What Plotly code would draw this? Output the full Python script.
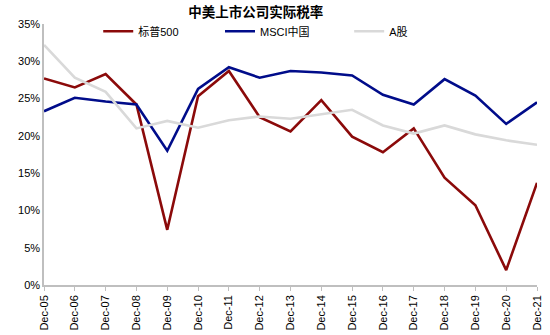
import plotly.graph_objects as go

categories = ["Dec-05", "Dec-06", "Dec-07", "Dec-08", "Dec-09", "Dec-10", "Dec-11",
              "Dec-12", "Dec-13", "Dec-14", "Dec-15", "Dec-16", "Dec-17", "Dec-18",
              "Dec-19", "Dec-20", "Dec-21"]
sp500 = [27.7, 26.5, 28.3, 24.2, 7.4, 25.3, 28.7, 22.5, 20.6, 24.8, 19.9, 17.8,
         21.0, 14.4, 10.7, 2.0, 13.7]
msci_china = [23.3, 25.1, 24.6, 24.2, 18.0, 26.3, 29.2, 27.8, 28.7, 28.5, 28.1, 25.5,
              24.2, 27.6, 25.4, 21.6, 24.5]
a_share = [32.2, 27.8, 25.9, 21.0, 22.0, 21.1, 22.1, 22.6, 22.3, 22.9, 23.5, 21.4,
           20.3, 21.4, 20.2, 19.4, 18.8]
y_ticks = [0, 5, 10, 15, 20, 25, 30, 35]

FONT = "Arial, 'Liberation Sans', 'Noto Sans CJK SC', sans-serif"

fig = go.Figure()
series = [
    ("标普500", sp500, "#8B0A0A", "legend", 0.110),
    ("MSCI中国", msci_china, "#000C8A", "legend2", 0.357),
    ("A股", a_share, "#D9D9D9", "legend3", 0.619),
]
legend_layout = {}
for name, vals, color, leg, lx in series:
    fig.add_trace(go.Scatter(
        x=categories, y=vals, name=name, mode="lines",
        line=dict(color=color, width=2.6), legend=leg,
    ))
    legend_layout[leg] = dict(
        orientation="h", x=lx, xanchor="left", y=0.972, yanchor="middle",
        bgcolor="rgba(0,0,0,0)", font=dict(size=11), itemwidth=30,
    )

fig.update_layout(
    width=550, height=335,
    margin=dict(l=44, r=13, t=24, b=50, autoexpand=False),
    paper_bgcolor="white", plot_bgcolor="white",
    font=dict(family=FONT, size=11, color="#000000"),
    title=dict(text="<b>中美上市公司实际税率</b>", x=0.465, xref="container",
               xanchor="center", y=0.963, yanchor="middle",
               font=dict(size=13.5, color="#000000")),
    showlegend=True,
    **legend_layout,
)
fig.update_xaxes(
    type="category", range=[0, len(categories) - 1], automargin=False,
    showline=True, linecolor="#BFBFBF", linewidth=1.5,
    ticks="outside", ticklen=4, tickcolor="#BFBFBF", tickwidth=1,
    tickangle=-90, showgrid=False, zeroline=False,
    tickfont=dict(size=11),
)
fig.update_yaxes(
    range=[0, 35], tickvals=y_ticks, ticktext=[f"{v}%" for v in y_ticks],
    automargin=False,
    showline=True, linecolor="#BFBFBF", linewidth=1.5,
    ticks="", showgrid=False, zeroline=False,
    tickfont=dict(size=11),
)

fig.write_html("out.html")
